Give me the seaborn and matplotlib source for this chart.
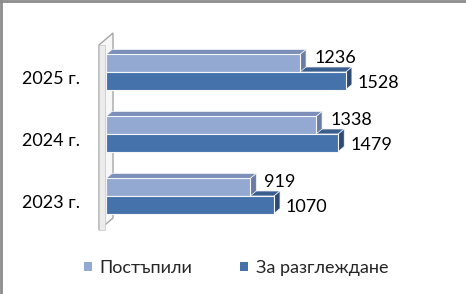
import numpy as np
import pandas as pd
import seaborn as sns
import matplotlib.pyplot as plt
import matplotlib.transforms as mtransforms
from matplotlib.patches import Polygon, Patch
from matplotlib.lines import Line2D

years = ["2025 г.", "2024 г.", "2023 г."]
series = ["Постъпили", "За разглеждане"]
received = [1236, 1338, 919]
pending = [1528, 1479, 1070]

light = "#93A9D2"
dark = "#4672AB"
light_top = "#7C8FB8"
light_side = "#6A7CA3"
dark_top = "#3A5E8E"
dark_side = "#2C4A74"

df = pd.DataFrame({
    "year": years * 2,
    "series": [series[0]] * 3 + [series[1]] * 3,
    "value": received + pending,
})

sns.set_theme(style="white")
plt.rcParams['font.family'] = ['Lato', 'DejaVu Sans']
FS = 13

W, H = 466, 294
fig = plt.figure(figsize=(W / 100, H / 100), dpi=100)
ax = fig.add_axes([106 / W, 67 / H, 314 / W, 186 / H])
ax.set_zorder(1)

sns.barplot(data=df, y="year", x="value", hue="series", order=years,
            hue_order=series, palette=[light, dark], width=0.565,
            orient="h", ax=ax, legend=False, edgecolor="#F4F6FA",
            linewidth=0.8, saturation=1)
ax.set_xlim(0, 2000)
ax.set_ylim(2.5, -0.5)
for s in ax.spines.values():
    s.set_visible(False)
ax.set_xticks([])
ax.set_xlabel("")
ax.set_ylabel("")
ax.tick_params(axis="y", length=0, pad=19, labelsize=FS, labelcolor="#000000")
for lab in ax.get_yticklabels():
    lab.set_transform(lab.get_transform() + mtransforms.ScaledTranslation(0, -5 / 100, fig.dpi_scale_trans))

ident = mtransforms.IdentityTransform()
fig.canvas.draw()
bars = list(ax.patches)

# wall (decorative back plane), relative to the axes box in pixels
bb = ax.get_window_extent()
wl, wb, wt = bb.x0 - 7, bb.y0 - 3, bb.y1 - 4
wall = Polygon([(wl, wb), (wl, wt), (wl + 14, wt + 12), (wl + 14, wb + 12)],
               closed=True, facecolor="#F7F7F7", edgecolor="#A6A6A6",
               linewidth=1, transform=ident, zorder=0.2, clip_on=False)
ax.add_patch(wall)
front = Polygon([(wl, wb), (wl, wt), (wl + 6, wt), (wl + 6, wb)], closed=True,
                facecolor="#EBEBEB", edgecolor="#C4C4C4", linewidth=0.5,
                transform=ident, zorder=0.3, clip_on=False)
ax.add_patch(front)

# 3D faces of bars
dx, dy = 6, 5
for p in bars:
    ext = p.get_window_extent()
    x0, y0, x1, y1 = ext.x0, ext.y0, ext.x1, ext.y1
    fc = p.get_facecolor()
    light_bar = abs(fc[0] - int(light[1:3], 16) / 255) < 0.02
    top_c = light_top if light_bar else dark_top
    side_c = light_side if light_bar else dark_side
    ax.add_patch(Polygon([(x0, y1), (x1, y1), (x1 + dx, y1 + dy), (x0 + dx, y1 + dy)],
                         closed=True, facecolor=top_c, edgecolor="#F4F6FA",
                         linewidth=0.5, transform=ident, zorder=0.6, clip_on=False))
    ax.add_patch(Polygon([(x1, y0), (x1, y1), (x1 + dx, y1 + dy), (x1 + dx, y0 + dy)],
                         closed=True, facecolor=side_c, edgecolor="#F4F6FA",
                         linewidth=0.5, transform=ident, zorder=0.7 if light_bar else 0.65,
                         clip_on=False))
    p.set_zorder(1)

# value labels
for cont, vals, (ox, oy) in zip(ax.containers, [received, pending], [(14, -5), (12, 2)]):
    for rect, v in zip(cont, vals):
        ax.annotate(f"{v}", xy=(rect.get_x() + rect.get_width(), rect.get_y() + rect.get_height() / 2),
                    xytext=(ox * 0.72, -oy * 0.72), textcoords="offset points",
                    ha="left", va="center", fontsize=FS, color="#000000",
                    annotation_clip=False)

handles = [Patch(facecolor=light, edgecolor="none"), Patch(facecolor=dark, edgecolor="none")]
fig.legend(handles, series, loc="center", bbox_to_anchor=(236 / W, 26 / H), ncol=2,
           frameon=False, fontsize=FS, handlelength=0.45, handleheight=0.45,
           handletextpad=0.45, columnspacing=2.6)

# figure border (left and top)
fig.add_artist(Line2D([0.002, 0.002], [0, 1], transform=fig.transFigure, color="#8C8C8C", linewidth=2))
fig.add_artist(Line2D([0, 1], [0.997, 0.997], transform=fig.transFigure, color="#8C8C8C", linewidth=2))

fig.savefig("out.png", dpi=100)
